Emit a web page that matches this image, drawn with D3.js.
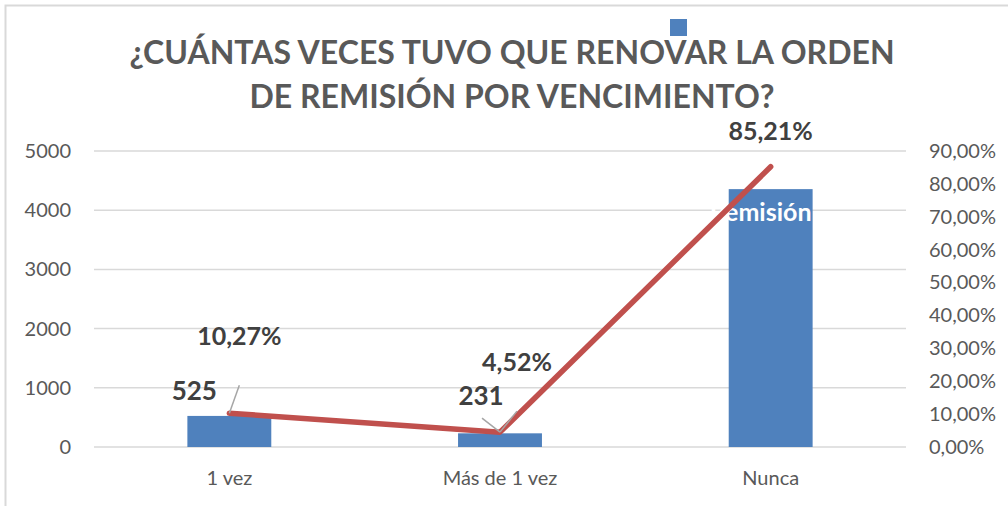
<!DOCTYPE html>
<html>
<head>
<meta charset="utf-8">
<script src="https://cdn.jsdelivr.net/npm/d3@7"></script>
<style>
  body { margin: 0; background: #fff; }
  svg { display: block; font-family: Lato, "Open Sans", sans-serif; }
</style>
</head>
<body>
<div id="chart"></div>
<script>
// data
const categories = ["1 vez", "Más de 1 vez", "Nunca"];
const counts = [525, 231, 4356];
const percents = [0.1027, 0.0452, 0.8521];
const countTicks = [0, 1000, 2000, 3000, 4000, 5000];
const percentTicks = [0, 0.1, 0.2, 0.3, 0.4, 0.5, 0.6, 0.7, 0.8, 0.9];
const titleLines = ["¿CUÁNTAS VECES TUVO QUE RENOVAR LA ORDEN", "DE REMISIÓN POR VENCIMIENTO?"];

// constants
const width = 1008, height = 506;
const plot = {left: 94, right: 906, top: 151, bottom: 447};
const barColor = "#4f81bd", lineColor = "#c0504d",
      gridColor = "#d9d9d9", textColor = "#595959", labelColor = "#404040";

// label offsets relative to the data point (px)
const countLabelOffsets = [[-35, -16], [-19, -28], null];
const pctLabelOffsets = [[10, -68], [17, -61], [0, -27]];

const svg = d3.select("#chart")
  .append("svg")
  .attr("width", width)
  .attr("height", height);

// outer frame
svg.append("rect")
  .attr("x", 5.5).attr("y", 5.5)
  .attr("width", width + 20).attr("height", height + 20)
  .attr("fill", "none")
  .attr("stroke", gridColor)
  .attr("stroke-width", 2);

// scales
const x = d3.scaleBand()
  .domain(categories)
  .range([plot.left, plot.right])
  .paddingInner(0.69)
  .paddingOuter(0.345);

const y = d3.scaleLinear().domain([0, 5000]).range([plot.bottom, plot.top]);
const y2 = d3.scaleLinear().domain([0, 0.9]).range([plot.bottom, plot.top]);

const fmtPct = d => (d * 100).toFixed(2).replace(".", ",") + "%";

// gridlines
svg.append("g")
  .selectAll("line")
  .data(countTicks)
  .join("line")
  .attr("x1", plot.left).attr("x2", plot.right)
  .attr("y1", d => y(d)).attr("y2", d => y(d))
  .attr("stroke", gridColor)
  .attr("stroke-width", 1.5);

// left axis
const leftAxis = svg.append("g")
  .attr("transform", `translate(${plot.left},0)`)
  .call(d3.axisLeft(y).tickValues(countTicks).tickSize(0).tickPadding(23).tickFormat(d3.format("d")));
leftAxis.select(".domain").remove();
leftAxis.selectAll("text")
  .attr("fill", textColor)
  .style("font-size", "20px")
  .style("font-family", "Lato");

// right axis
const rightAxis = svg.append("g")
  .attr("transform", `translate(${plot.right},0)`)
  .call(d3.axisRight(y2).tickValues(percentTicks).tickSize(0).tickPadding(23).tickFormat(fmtPct));
rightAxis.select(".domain").remove();
rightAxis.selectAll("text")
  .attr("fill", textColor)
  .style("font-size", "20px")
  .style("font-family", "Lato");

// bottom axis
const bottomAxis = svg.append("g")
  .attr("transform", `translate(0,${plot.bottom})`)
  .call(d3.axisBottom(x).tickSize(0).tickPadding(24));
bottomAxis.select(".domain").remove();
bottomAxis.selectAll("text")
  .attr("fill", textColor)
  .style("font-size", "20px")
  .style("font-family", "Lato");

// bars
svg.append("g")
  .selectAll("rect")
  .data(counts)
  .join("rect")
  .attr("x", (d, i) => x(categories[i]))
  .attr("y", d => y(d))
  .attr("width", x.bandwidth())
  .attr("height", d => y(0) - y(d))
  .attr("fill", barColor);

// hidden series name peeking through (white text over the bar)
svg.append("text")
  .attr("x", x(categories[2]) + x.bandwidth() / 2 - 10)
  .attr("y", y(counts[2]) + 32)
  .attr("text-anchor", "middle")
  .attr("fill", "#fff")
  .attr("font-weight", "bold")
  .attr("font-size", 25)
  .text("Remisión");

// line
const cx = i => x(categories[i]) + x.bandwidth() / 2;
const line = d3.line()
  .x((d, i) => cx(i))
  .y(d => y2(d));

svg.append("path")
  .datum(percents)
  .attr("d", line)
  .attr("fill", "none")
  .attr("stroke", lineColor)
  .attr("stroke-width", 5.5)
  .attr("stroke-linecap", "round")
  .attr("stroke-linejoin", "round");

// leader lines
const leaders = svg.append("g")
  .attr("stroke", "#a6a6a6")
  .attr("stroke-width", 1.5);

percents.forEach((p, i) => {
  const o = pctLabelOffsets[i];
  if (i === 2) return;
  leaders.append("line")
    .attr("x1", cx(i) + o[0]).attr("y1", y2(p) + o[1] + 40)
    .attr("x2", cx(i)).attr("y2", y2(p));
});
// leader from the "231" label
leaders.append("line")
  .attr("x1", cx(1) - 18).attr("y1", y2(percents[1]) - 14)
  .attr("x2", cx(1)).attr("y2", y2(percents[1]));

// count labels
svg.append("g")
  .selectAll("text")
  .data(counts)
  .join("text")
  .filter((d, i) => countLabelOffsets[i] !== null)
  .attr("x", (d, i) => cx(i) + countLabelOffsets[i][0])
  .attr("y", (d, i) => y(d) + countLabelOffsets[i][1])
  .attr("text-anchor", "middle")
  .attr("fill", labelColor)
  .attr("font-weight", "bold")
  .attr("font-size", 26)
  .text(d => d);

// percent labels
svg.append("g")
  .selectAll("text")
  .data(percents)
  .join("text")
  .attr("x", (d, i) => cx(i) + pctLabelOffsets[i][0])
  .attr("y", (d, i) => y2(d) + pctLabelOffsets[i][1])
  .attr("text-anchor", "middle")
  .attr("fill", labelColor)
  .attr("font-weight", "bold")
  .attr("font-size", 25)
  .text(d => fmtPct(d));

// legend marker
svg.append("rect")
  .attr("x", 670).attr("y", 19)
  .attr("width", 17).attr("height", 17)
  .attr("fill", barColor);

// title
svg.append("text")
  .attr("x", 512)
  .attr("text-anchor", "middle")
  .attr("fill", textColor)
  .attr("font-weight", "bold")
  .attr("font-size", 32)
  .selectAll("tspan")
  .data(titleLines)
  .join("tspan")
  .attr("x", 512)
  .attr("y", (d, i) => 64 + i * 44)
  .text(d => d);
</script>
</body>
</html>
